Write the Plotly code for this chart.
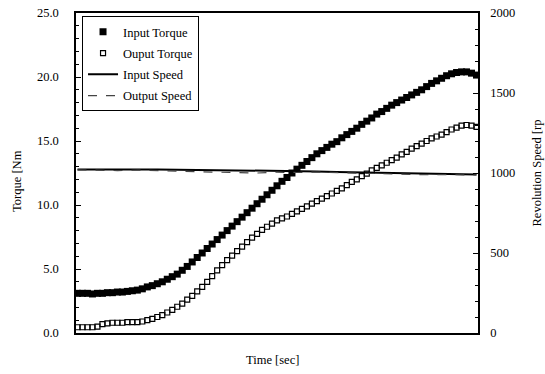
import plotly.graph_objects as go

# time index (arbitrary units; no tick labels on the x axis)
time_idx = list(range(81))

input_torque = [
    3.1, 3.1, 3.1, 3.05, 3.1, 3.1, 3.15, 3.15, 3.2, 3.2, 3.25,
    3.3, 3.35, 3.45, 3.6, 3.7, 3.85, 4.0, 4.2, 4.4, 4.6,
    4.9, 5.2, 5.55, 5.9, 6.25, 6.6, 6.95, 7.3, 7.65, 8.0,
    8.35, 8.7, 9.05, 9.4, 9.75, 10.1, 10.45, 10.8, 11.15, 11.5,
    11.85, 12.15, 12.5, 12.8, 13.1, 13.4, 13.7, 14.0, 14.25, 14.5,
    14.75, 14.95, 15.25, 15.5, 15.75, 16.0, 16.3, 16.55, 16.8, 17.1,
    17.3, 17.55, 17.8, 18.0, 18.2, 18.4, 18.6, 18.8, 19.0, 19.25,
    19.5, 19.7, 19.9, 20.1, 20.25, 20.35, 20.4, 20.4, 20.3, 20.15,
]

output_torque = [
    0.45, 0.45, 0.45, 0.45, 0.5, 0.7, 0.75, 0.8, 0.8, 0.8, 0.85,
    0.85, 0.85, 0.9, 1.0, 1.1, 1.25, 1.4, 1.6, 1.8, 2.05,
    2.3, 2.6, 2.9, 3.25, 3.6, 4.0, 4.45, 4.9, 5.3, 5.7,
    6.05, 6.4, 6.75, 7.1, 7.45, 7.75, 8.05, 8.3, 8.55, 8.8,
    8.95, 9.1, 9.3, 9.5, 9.7, 9.9, 10.1, 10.3, 10.5, 10.7,
    10.9, 11.1, 11.3, 11.55, 11.8, 12.0, 12.25, 12.45, 12.7, 12.9,
    13.1, 13.3, 13.5, 13.7, 13.95, 14.15, 14.4, 14.6, 14.8, 15.0,
    15.2, 15.35, 15.5, 15.7, 15.9, 16.05, 16.2, 16.25, 16.2, 16.1,
]

speed_time = list(range(0, 81, 4))
input_speed = [1022, 1023, 1024, 1023, 1022, 1021, 1020, 1019, 1018, 1016, 1014,
               1012, 1010, 1007, 1004, 1001, 998, 995, 993, 991, 990]
output_speed = [1020, 1018, 1015, 1018, 1014, 1012, 1008, 1005, 1003, 1000, 1005,
                1003, 1006, 1002, 1000, 998, 993, 990, 990, 988, 988]

FONT = "Liberation Serif, Times New Roman, serif"

fig = go.Figure()
fig.add_trace(go.Scatter(x=time_idx, y=input_torque, name="Input Torque", mode="markers",
                         legendgroup="a",
                         marker=dict(symbol="square", size=7, color="black")))
fig.add_trace(go.Scatter(x=time_idx, y=output_torque, name="Ouput Torque", mode="markers",
                         legendgroup="b",
                         marker=dict(symbol="square-open", size=5, color="black",
                                     line=dict(width=1.2, color="black"))))
fig.add_trace(go.Scatter(x=speed_time, y=input_speed, name="Input Speed", mode="lines",
                         legendgroup="c",
                         line=dict(color="black", width=2), yaxis="y2"))
fig.add_trace(go.Scatter(x=speed_time, y=output_speed, name="Output Speed", mode="lines",
                         legendgroup="d",
                         line=dict(color="#444444", width=1.2, dash="dash"), yaxis="y2"))

fig.update_layout(
    width=545, height=374,
    margin=dict(l=76, r=67, t=13, b=41, autoexpand=False),
    paper_bgcolor="white", plot_bgcolor="white",
    font=dict(family=FONT, size=12.5, color="black"),
    showlegend=True,
    legend=dict(x=0.015, y=0.99, xanchor="left", yanchor="top",
                bordercolor="black", borderwidth=1, bgcolor="white",
                font=dict(family=FONT, size=12.5), itemwidth=30,
                tracegroupgap=2),
    xaxis=dict(range=[-0.3, 80.3], showticklabels=False, ticks="", showgrid=False,
               zeroline=False, showline=True, linecolor="black", linewidth=1.5,
               mirror=True, automargin=False),
    yaxis=dict(range=[0, 25], tickvals=[0, 5, 10, 15, 20, 25],
               ticktext=["0.0", "5.0", "10.0", "15.0", "20.0", "25.0"],
               ticks="inside", ticklen=5, tickwidth=1, tickcolor="black",
               minor=dict(dtick=1, ticks="inside", ticklen=3, tickwidth=1,
                          tickcolor="black"),
               ticklabelstandoff=13,
               showgrid=False, zeroline=False, showline=True, linecolor="black",
               linewidth=1.5, automargin=False, tickfont=dict(family=FONT, size=12.5)),
    yaxis2=dict(range=[0, 2000], overlaying="y", side="right",
                tickvals=[0, 500, 1000, 1500, 2000],
                ticks="inside", ticklen=5, tickwidth=1, tickcolor="black",
                minor=dict(dtick=100, ticks="inside", ticklen=3, tickwidth=1,
                           tickcolor="black"),
                ticklabelstandoff=8,
                showgrid=False, zeroline=False, showline=True, linecolor="black",
                linewidth=1.5, automargin=False, tickfont=dict(family=FONT, size=12.5)),
    annotations=[
        dict(text="Torque [Nm", xref="paper", yref="paper", x=-0.147, y=0.475,
             xanchor="center", yanchor="middle", textangle=-90, showarrow=False,
             font=dict(family=FONT, size=12.5)),
        dict(text="Revolution Speed [rp", xref="paper", yref="paper", x=1.148, y=0.5,
             xanchor="center", yanchor="middle", textangle=-90, showarrow=False,
             font=dict(family=FONT, size=12.5)),
        dict(text="Time [sec]", xref="paper", yref="paper", x=0.49, y=-0.055,
             xanchor="center", yanchor="top", showarrow=False,
             font=dict(family=FONT, size=12.5)),
    ],
)

# remove the browser's default 8px page margin so the figure sits at the window's corner
fig.write_html("out.html", config={"displayModeBar": False},
               post_script="document.body.style.margin='0';")
